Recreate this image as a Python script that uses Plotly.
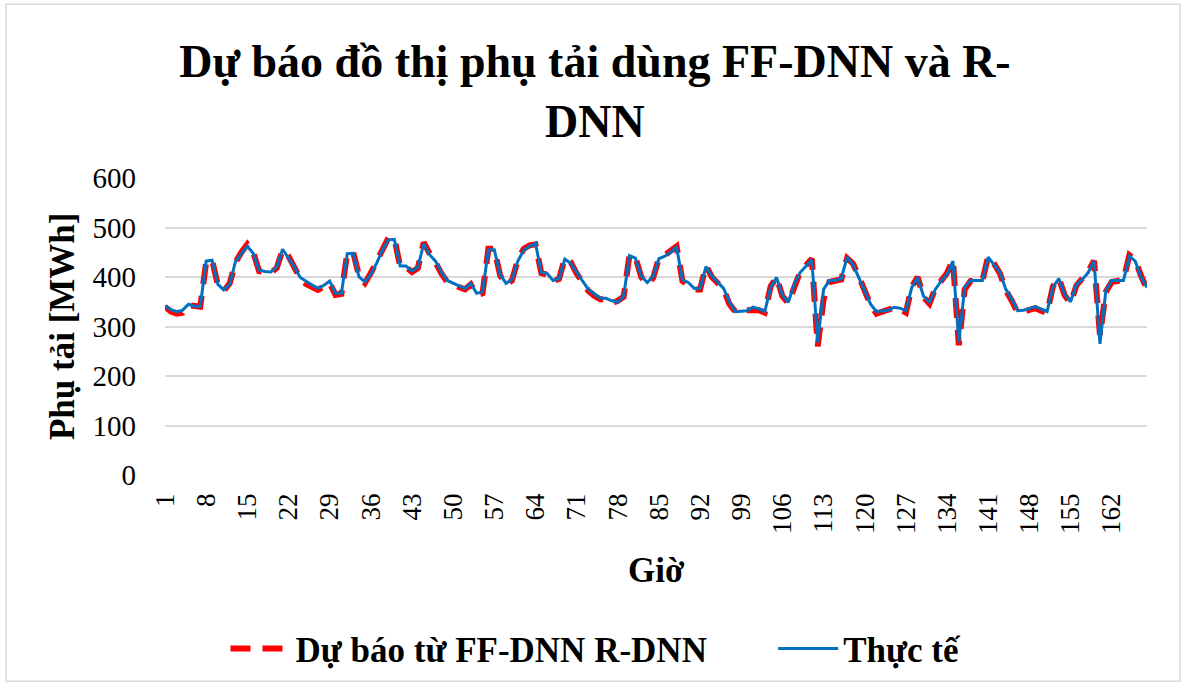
import plotly.graph_objects as go

# Hourly load over one week (168 hours)
hours = list(range(1, 169))

actual = [
    342, 334, 330, 333, 345, 341, 341, 432, 434, 385, 374, 385, 432, 448, 462, 448, 414, 411, 410, 420,
    456, 438, 420, 399, 391, 384, 377, 383, 392, 367, 367, 447, 448, 400, 390, 405, 428, 455, 475, 476,
    422, 422, 412, 420, 467, 445, 432, 410, 393, 387, 382, 377, 387, 367, 370, 455, 455, 405, 387, 395,
    432, 454, 462, 468, 409, 407, 393, 397, 436, 428, 409, 392, 375, 365, 357, 357, 352, 349, 362, 443,
    438, 402, 389, 401, 437, 442, 450, 460, 394, 389, 377, 377, 421, 402, 389, 377, 349, 330, 331, 332,
    339, 336, 330, 379, 399, 363, 349, 385, 409, 422, 435, 268, 375, 393, 393, 397, 440, 425, 399, 370,
    345, 330, 332, 333, 339, 337, 332, 379, 399, 361, 349, 375, 392, 405, 432, 268, 379, 393, 393, 393,
    440, 425, 409, 375, 355, 332, 333, 336, 340, 335, 330, 379, 397, 365, 350, 385, 395, 409, 432, 265,
    372, 393, 393, 393, 442, 432, 400, 379,
]

forecast = [
    340, 330, 326, 328, 343, 340, 340, 430, 435, 383, 372, 387, 430, 450, 466, 450, 412, 410, 408, 418,
    455, 442, 422, 397, 386, 380, 374, 380, 388, 364, 366, 449, 450, 402, 388, 408, 430, 458, 479, 479,
    420, 420, 410, 418, 470, 447, 430, 407, 390, 384, 380, 375, 385, 363, 367, 457, 457, 403, 384, 393,
    434, 457, 464, 466, 408, 405, 392, 396, 438, 430, 407, 390, 372, 362, 355, 355, 347, 352, 360, 445,
    440, 400, 385, 398, 438, 444, 452, 462, 392, 385, 375, 375, 423, 400, 387, 375, 345, 330, 333, 333,
    336, 333, 328, 381, 400, 361, 347, 383, 410, 424, 437, 260, 355, 390, 392, 395, 438, 427, 401, 368,
    343, 326, 330, 332, 338, 335, 328, 381, 400, 359, 346, 377, 395, 408, 435, 262, 375, 392, 392, 392,
    442, 427, 407, 373, 352, 328, 330, 333, 337, 332, 327, 381, 398, 363, 347, 383, 396, 411, 433, 282,
    370, 390, 392, 394, 444, 435, 402, 376,
]

tick_hours = list(range(1, 163, 7))
tick_labels = [str(h) for h in tick_hours]

FONT = "Liberation Serif, Times New Roman, serif"

# Plot area geometry (pixels)
W, H = 1184, 690
ML, MR, MT, MB = 165, 37, 178, 211
PW, PH = W - ML - MR, H - MT - MB


def px_x(px):
    return (px - ML) / PW


def px_y(py):
    return (H - MB - py) / PH


fig = go.Figure()

fig.add_trace(go.Scatter(
    x=hours, y=forecast, mode="lines",
    name="<b>Dự báo từ FF-DNN R-DNN</b>" + "&nbsp;" * 7,
    line=dict(color="#FF0000", width=6, dash="20px,12px"),
))
fig.add_trace(go.Scatter(
    x=hours, y=actual, mode="lines",
    name="<b>Thực tế</b>",
    line=dict(color="#0070C0", width=3),
))

fig.update_layout(
    width=W, height=H,
    margin=dict(l=ML, r=MR, t=MT, b=MB),
    paper_bgcolor="white", plot_bgcolor="white",
    font=dict(family=FONT, color="black"),
    title=dict(
        text="<b>Dự báo đồ thị phụ tải dùng FF-DNN và R-<br>DNN</b>",
        font=dict(family=FONT, size=46, color="black"),
        x=0.5025, xanchor="center",
        y=1 - 77 / H, yanchor="middle", yref="container",
    ),
    xaxis=dict(
        range=[1, 168],
        tickmode="array", tickvals=tick_hours, ticktext=tick_labels,
        tickangle=-90, tickfont=dict(family=FONT, size=27, color="black"),
        showgrid=False, zeroline=False, showline=False, ticks="",
        ticklabelstandoff=12,
    ),
    yaxis=dict(
        range=[0, 600], dtick=100,
        tickfont=dict(family=FONT, size=29, color="black"),
        showgrid=True, gridcolor="#D9D9D9", gridwidth=1.5,
        zeroline=False, showline=False, ticks="", ticklabelstandoff=28,
    ),
    legend=dict(
        orientation="h", x=px_x(596), xanchor="center",
        y=px_y(655), yanchor="middle",
        font=dict(family=FONT, size=35, color="black"),
        itemwidth=60, entrywidth=0,
    ),
    showlegend=True,
)

fig.add_annotation(
    text="<b>Phụ tải [MWh]</b>", textangle=-90,
    x=px_x(62), y=px_y(328), xref="paper", yref="paper",
    showarrow=False, font=dict(family=FONT, size=35, color="black"),
    xanchor="center", yanchor="middle",
)
fig.add_annotation(
    text="<b>Giờ</b>",
    x=px_x(656), y=px_y(576), xref="paper", yref="paper",
    showarrow=False, font=dict(family=FONT, size=35, color="black"),
    xanchor="center", yanchor="middle",
)

# Chart area border
fig.add_shape(
    type="rect", xref="paper", yref="paper",
    x0=px_x(6), x1=px_x(1180), y0=px_y(688), y1=px_y(2),
    line=dict(color="#D9D9D9", width=1.5), layer="below",
)

fig.write_html("out.html")
